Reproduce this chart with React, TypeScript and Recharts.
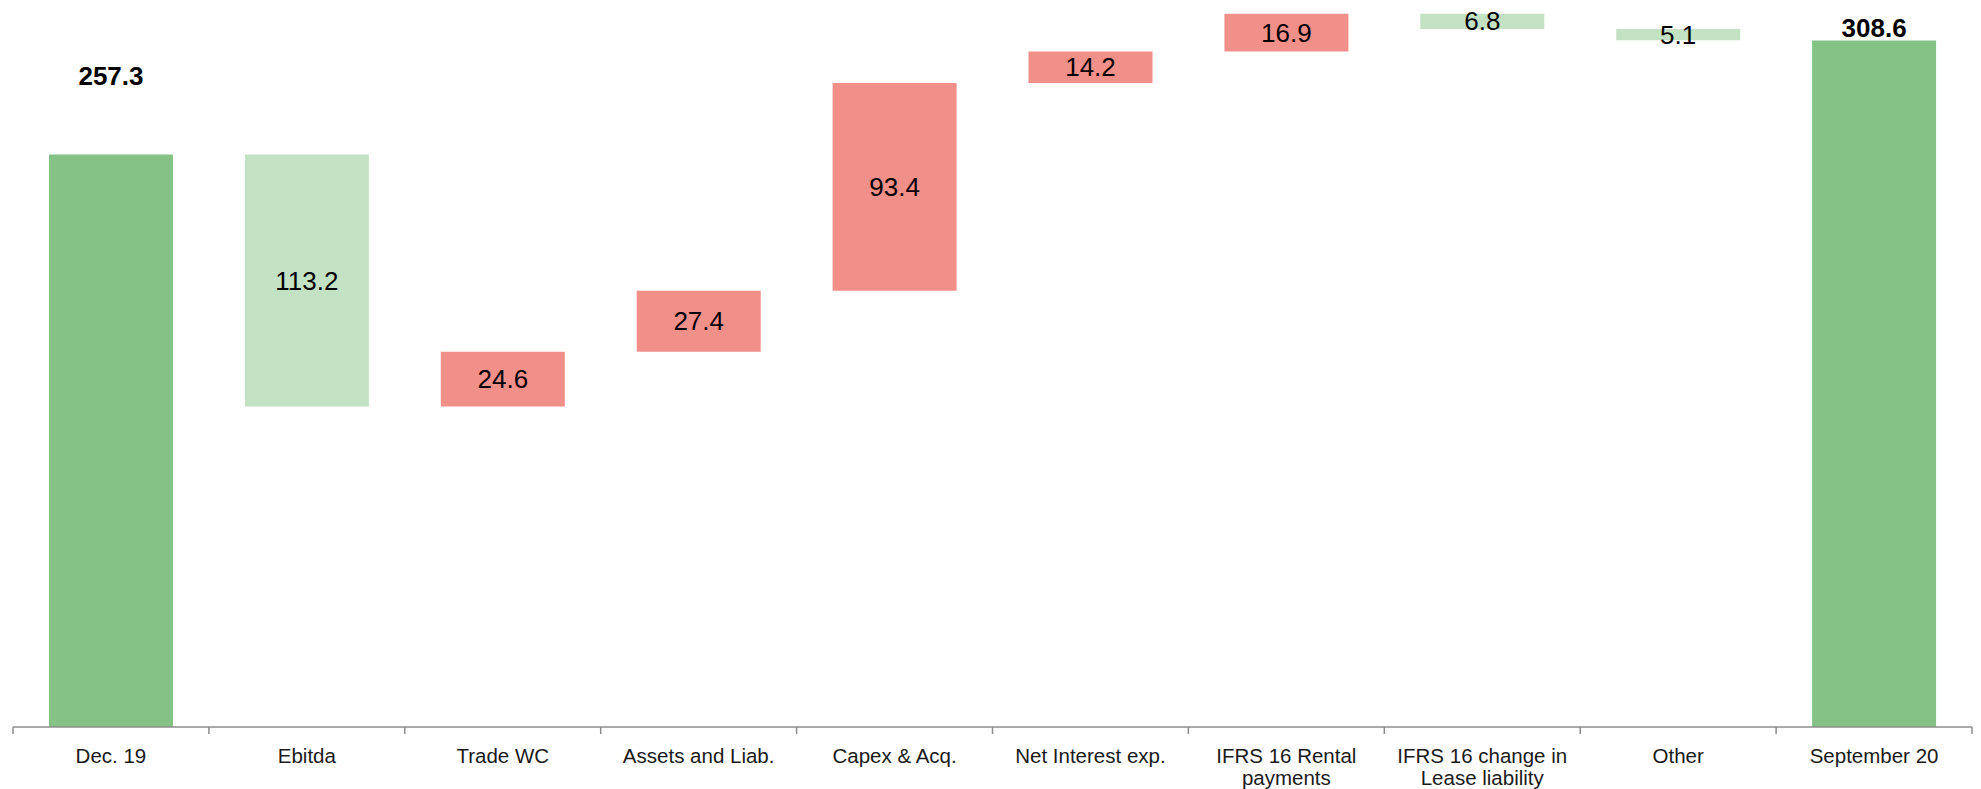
import { BarChart, Bar, XAxis, YAxis, Cell, LabelList } from 'recharts';

const categories = [
  'Dec. 19',
  'Ebitda',
  'Trade WC',
  'Assets and Liab.',
  'Capex & Acq.',
  'Net Interest exp.',
  'IFRS 16 Rental\npayments',
  'IFRS 16 change in\nLease liability',
  'Other',
  'September 20',
];
const amounts = [257.3, 113.2, 24.6, 27.4, 93.4, 14.2, 16.9, 6.8, 5.1, 308.6];
const kinds = ['total', 'down', 'up', 'up', 'up', 'up', 'up', 'down', 'down', 'total'];

const COLORS: Record<string, string> = {
  total: '#84c285',
  down: '#c3e2c4',
  up: '#f18f89',
};

const WIDTH = 1981;
const HEIGHT = 789;
const MARGIN = { top: 4, right: 9, bottom: 0, left: 13 };
const BAND = (WIDTH - MARGIN.left - MARGIN.right) / categories.length;
const FONT = "'Liberation Sans', Arial, sans-serif";

// how far the bold total labels sit above their bar
const totalLabelLift: Record<number, number> = { 0: 79, 9: 12 };

// build floating ranges for the waterfall
let level = 0;
const chartData = categories.map((name, i) => {
  const amount = amounts[i];
  const kind = kinds[i];
  let range: [number, number];
  if (kind === 'total') {
    range = [0, amount];
    level = amount;
  } else if (kind === 'up') {
    range = [level, level + amount];
    level += amount;
  } else {
    range = [level - amount, level];
    level -= amount;
  }
  return { name, amount, kind, range };
});

const BoundaryTick = (props: any) => {
  const { x, y, payload, index } = props;
  const lines = String(payload.value).split('\n');
  const left = x - BAND / 2;
  const right = x + BAND / 2;
  return (
    <g>
      <line x1={left} x2={left} y1={y} y2={y + 7} stroke="#8c8c8c" strokeWidth={1.5} />
      {index === categories.length - 1 && (
        <line x1={right} x2={right} y1={y} y2={y + 7} stroke="#8c8c8c" strokeWidth={1.5} />
      )}
      {lines.map((line, i) => (
        <text
          key={i}
          x={x}
          y={y + 36 + i * 22}
          textAnchor="middle"
          fontFamily={FONT}
          fontSize={20.5}
          fill="#1a1a1a"
        >
          {line}
        </text>
      ))}
    </g>
  );
};

const ValueLabel = (props: any) => {
  const { x, y, width, height, value, index } = props;
  const top = Math.min(y, y + height);
  const cx = x + width / 2;
  const isTotal = kinds[index] === 'total';
  return (
    <text
      x={cx}
      y={isTotal ? top - totalLabelLift[index] : y + height / 2}
      textAnchor="middle"
      dominantBaseline="central"
      fontFamily={FONT}
      fontSize={26}
      fontWeight={isTotal ? 'bold' : 'normal'}
      fill="#000"
    >
      {value}
    </text>
  );
};

export default function App() {
  return (
    <div style={{ width: WIDTH, height: HEIGHT, background: '#fff' }}>
      <style>{'body { margin: 0; }'}</style>
      <BarChart width={WIDTH} height={HEIGHT} data={chartData} margin={MARGIN} barSize={124}>
        <XAxis
          dataKey="name"
          interval={0}
          height={62}
          axisLine={{ stroke: '#8c8c8c', strokeWidth: 1.5 }}
          tickLine={false}
          tickSize={0}
          tickMargin={0}
          tick={<BoundaryTick />}
        />
        <YAxis hide domain={[0, 325]} />
        <Bar dataKey="range" isAnimationActive={false}>
          {chartData.map((d, i) => (
            <Cell key={i} fill={COLORS[d.kind]} />
          ))}
          <LabelList dataKey="amount" content={<ValueLabel />} />
        </Bar>
      </BarChart>
    </div>
  );
}
